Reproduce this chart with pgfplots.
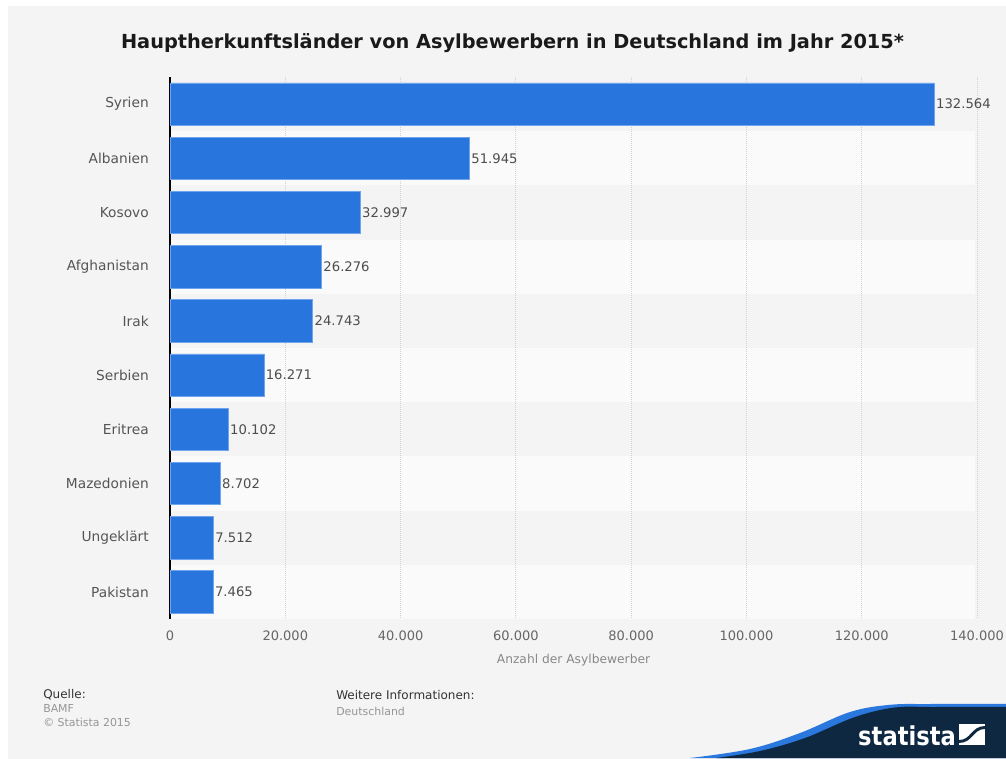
\documentclass[border=0pt]{standalone}
\usepackage{pgfplots}
\usepackage{pgfplotstable}
\pgfplotsset{compat=1.18}
\usepackage{fontspec}
\setmainfont{DejaVu Sans}
\definecolor{bg}{HTML}{F4F4F4}
\definecolor{band}{HTML}{FAFAFA}
\definecolor{barc}{HTML}{2876DD}
\definecolor{baredge}{HTML}{6FA5EE}
\definecolor{navy}{HTML}{0E2842}
\definecolor{wave}{HTML}{2A78DE}
\definecolor{gridc}{HTML}{D2D2D2}

\pgfplotstableread{
y x
1 132564
2 51945
3 32997
4 26276
5 24743
6 16271
7 10102
8 8702
9 7512
10 7465
}\data

\begin{document}
\begin{tikzpicture}
\begin{axis}[
  at={(127.5pt,104.25pt)}, anchor=south west,
  scale only axis, width=605.25pt, height=406.5pt,
  set layers=standard,
  xmin=0, xmax=140000, ymin=0.5, ymax=10.5, y dir=reverse,
  enlargelimits=false,
  xbar, bar width=0.78,
  axis lines*=left,
  x axis line style={draw=none},
  y axis line style={draw=black, line width=0.9pt},
  tick style={draw=none},
  xtick={0,20000,...,140000},
  scaled x ticks=false,
  xticklabel={\pgfmathprintnumber[fixed,1000 sep={.}]{\tick}},
  xticklabel style={font=\fontsize{9.75pt}{12pt}\selectfont, text={rgb,255:red,102;green,102;blue,102}, anchor=north, inner sep=0pt, yshift=-8.5pt},
  ytick={1,...,10},
  yticklabels={Syrien,Albanien,Kosovo,Afghanistan,Irak,Serbien,Eritrea,Mazedonien,Ungeklärt,Pakistan},
  yticklabel style={font=\fontsize{10.3pt}{12pt}\selectfont, text={rgb,255:red,85;green,85;blue,85}, anchor=east, inner sep=0pt, xshift=-11.5pt},
  xmajorgrids,
  major grid style={draw=gridc, line width=0.75pt, dash pattern=on 0.75pt off 0.75pt},
  xlabel={Anzahl der Asylbewerber},
  xlabel style={at={(axis description cs:0.5,0)}, anchor=north, inner sep=0pt, yshift=-26.5pt, font=\fontsize{9.2pt}{11pt}\selectfont, text={rgb,255:red,136;green,136;blue,136}},
  nodes near coords={\pgfmathprintnumber[fixed,1000 sep={.},assume math mode=true]{\pgfplotspointmeta}},
  point meta=x,
  nodes near coords style={anchor=west, inner sep=0pt, xshift=1.3pt, font=\fontsize{9.9pt}{12pt}\selectfont, text={rgb,255:red,77;green,77;blue,77}},
  /pgf/number format/assume math mode=true,
  clip=false,
]
\begin{pgfonlayer}{axis background}
% page background (picture spans x=-29492..145031, y=-0.92..13.06 in axis units)
\fill[white] (axis cs:-31000,-1.2) rectangle (axis cs:147000,13.4);
\fill[bg] (axis cs:-28104,-0.81) rectangle (axis cs:147000,13.4);
% alternating row bands
\fill[band] (axis cs:0,1.5) rectangle (axis cs:139600,2.5);
\fill[band] (axis cs:0,3.5) rectangle (axis cs:139600,4.5);
\fill[band] (axis cs:0,5.5) rectangle (axis cs:139600,6.5);
\fill[band] (axis cs:0,7.5) rectangle (axis cs:139600,8.5);
\fill[band] (axis cs:0,9.5) rectangle (axis cs:139600,10.5);
\end{pgfonlayer}
\addplot[fill=barc, draw=baredge, line width=0.4pt] table[x=x,y=y] {\data};
\end{axis}

\begin{scope}[x=0.75pt,y=0.75pt]
% title
\node[anchor=base, font=\bfseries\fontsize{14.5pt}{16pt}\selectfont, text={rgb,255:red,26;green,26;blue,26}, inner sep=0pt]
  at (512.5,709) {Hauptherkunftsländer von Asylbewerbern in Deutschland im Jahr 2015*};
% footer
\node[anchor=base west, inner sep=0pt, font=\fontsize{9pt}{10pt}\selectfont, text={rgb,255:red,51;green,51;blue,51}] at (43,60) {Quelle:};
\node[anchor=base west, inner sep=0pt, font=\fontsize{8.2pt}{10pt}\selectfont, text={rgb,255:red,150;green,150;blue,150}] at (43,46) {BAMF};
\node[anchor=base west, inner sep=0pt, font=\fontsize{8.2pt}{10pt}\selectfont, text={rgb,255:red,150;green,150;blue,150}] at (43,32) {© Statista 2015};
\node[anchor=base west, inner sep=0pt, font=\fontsize{9pt}{10pt}\selectfont, text={rgb,255:red,51;green,51;blue,51}] at (336,59) {Weitere Informationen:};
\node[anchor=base west, inner sep=0pt, font=\fontsize{8.2pt}{10pt}\selectfont, text={rgb,255:red,150;green,150;blue,150}] at (336,43) {Deutschland};

% logo
\fill[wave] plot[smooth, tension=0.6] coordinates {(690,0) (750,9) (800,25) (850,46) (890,53.2) (930,54) (1006,54.2)} -- (1006,0) -- cycle;
\fill[navy] plot[smooth, tension=0.6] coordinates {(716,0) (760,7) (805,20) (855,41) (895,50.5) (935,51) (1006,51.2)} -- (1006,0) -- cycle;
\node[anchor=base west, inner sep=0pt, text=white, font=\bfseries\fontsize{19.5pt}{20pt}\selectfont, xscale=0.87] at (858,13) {statista};
\fill[white] (959,13) rectangle (985,34);
\draw[navy, line width=2.2pt] (959,16.5) .. controls (972,16.5) and (972,30.5) .. (985,30.5);
\pgfresetboundingbox
\useasboundingbox (0,0) rectangle (1006,758);
\end{scope}
\end{tikzpicture}
\end{document}
